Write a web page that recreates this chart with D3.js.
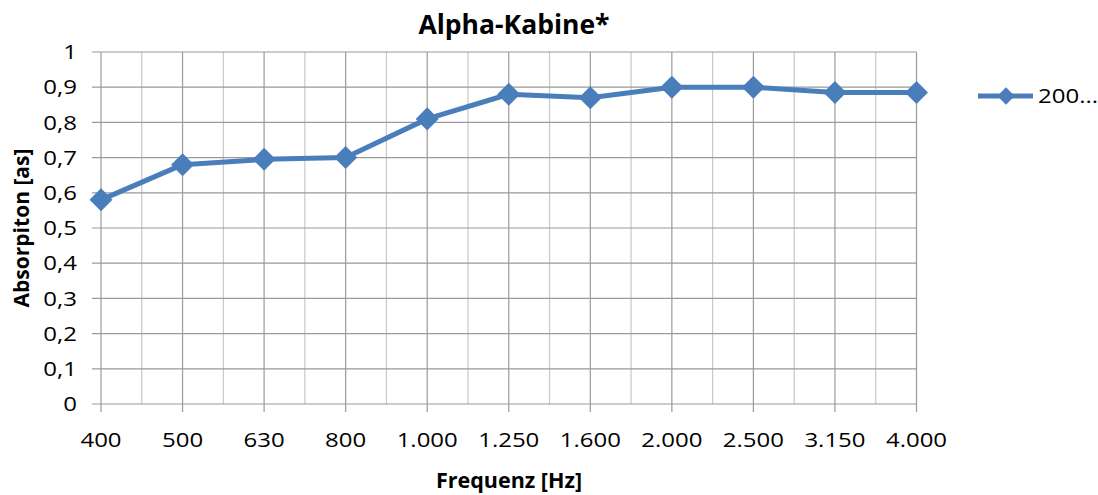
<!DOCTYPE html>
<html>
<head>
<meta charset="utf-8">
<script src="https://cdn.jsdelivr.net/npm/d3@7"></script>
<style>
  body { margin: 0; background: #fff; }
  text { font-family: "Open Sans", "Noto Sans", sans-serif; fill: #000; }
</style>
</head>
<body>
<svg id="chart" width="1098" height="495"></svg>
<script>
// chart data
const categories = ['400', '500', '630', '800', '1.000', '1.250', '1.600', '2.000', '2.500', '3.150', '4.000'];
const values = [0.58, 0.68, 0.695, 0.70, 0.81, 0.88, 0.87, 0.90, 0.90, 0.885, 0.885];
const yTicks = [0, 0.1, 0.2, 0.3, 0.4, 0.5, 0.6, 0.7, 0.8, 0.9, 1];
const seriesName = '200...';

const svg = d3.select('#chart');
const plotLeft = 101, plotRight = 916.5, plotTop = 52, plotBottom = 404;
const blue = '#4a7ebb';
const stretch = 1.2; // the labels in the original are drawn a bit wide

const x = d3.scalePoint().domain(categories).range([plotLeft, plotRight]);
const y = d3.scaleLinear().domain([0, 1]).range([plotBottom, plotTop]);
const step = x.step();

const grid = svg.append('g');
// minor vertical lines between categories
grid.selectAll('line.minor')
  .data(categories.slice(1))
  .enter().append('line')
  .attr('x1', d => x(d) - step / 2).attr('x2', d => x(d) - step / 2)
  .attr('y1', plotTop).attr('y2', plotBottom)
  .attr('stroke', '#c8c8c8').attr('stroke-width', 1.2);
// major vertical lines, with tick marks below
grid.selectAll('line.major')
  .data(categories)
  .enter().append('line')
  .attr('x1', d => x(d)).attr('x2', d => x(d))
  .attr('y1', plotTop).attr('y2', plotBottom + 8)
  .attr('stroke', '#9a9a9a').attr('stroke-width', 1.2);
// horizontal lines, with tick marks on the left
grid.selectAll('line.h')
  .data(yTicks)
  .enter().append('line')
  .attr('x1', plotLeft - 9).attr('x2', plotRight)
  .attr('y1', d => y(d)).attr('y2', d => y(d))
  .attr('stroke', '#9a9a9a').attr('stroke-width', 1.2);

// tick labels
svg.append('g').selectAll('text')
  .data(yTicks)
  .enter().append('text')
  .attr('transform', d => 'translate(77,' + y(d) + ') scale(' + stretch + ',1)')
  .attr('dy', '0.36em')
  .attr('text-anchor', 'end')
  .attr('font-size', 20)
  .text(d => d3.format('.1~f')(d).replace('.', ','));

svg.append('g').selectAll('text')
  .data(categories)
  .enter().append('text')
  .attr('transform', d => 'translate(' + x(d) + ',447) scale(' + stretch + ',1)')
  .attr('text-anchor', 'middle')
  .attr('font-size', 20)
  .text(d => d);

// titles
svg.append('text')
  .attr('x', 514).attr('y', 34)
  .attr('text-anchor', 'middle')
  .attr('font-size', 26.5).attr('font-weight', 'bold')
  .text('Alpha-Kabine*');
svg.append('text')
  .attr('x', 509).attr('y', 488)
  .attr('text-anchor', 'middle')
  .attr('font-size', 21.5).attr('font-weight', 'bold')
  .text('Frequenz [Hz]');
svg.append('text')
  .attr('transform', 'translate(29,' + ((plotTop + plotBottom) / 2) + ') rotate(-90)')
  .attr('text-anchor', 'middle')
  .attr('font-size', 21).attr('font-weight', 'bold')
  .text('Absorpiton [as]');

// series line
const line = d3.line().x((d, i) => x(categories[i])).y(d => y(d));
svg.append('path')
  .datum(values)
  .attr('d', line)
  .attr('fill', 'none')
  .attr('stroke', blue)
  .attr('stroke-width', 5)
  .attr('stroke-linejoin', 'round');

// diamonds = squares turned by 45 degrees
const marker = d3.symbol().type(d3.symbolSquare).size(265);
svg.append('g').selectAll('path')
  .data(values)
  .enter().append('path')
  .attr('d', marker)
  .attr('transform', (d, i) => 'translate(' + x(categories[i]) + ',' + y(d) + ') rotate(45)')
  .attr('fill', blue);

// legend
const lg = svg.append('g').attr('transform', 'translate(978,96)');
lg.append('line').attr('x1', 0).attr('x2', 55).attr('y1', 0).attr('y2', 0)
  .attr('stroke', blue).attr('stroke-width', 5);
lg.append('path').attr('d', d3.symbol().type(d3.symbolSquare).size(150))
  .attr('transform', 'translate(28,0) rotate(45)')
  .attr('fill', blue);
lg.append('text')
  .attr('transform', 'translate(60,0) scale(' + stretch + ',1)')
  .attr('dy', '0.36em')
  .attr('font-size', 20).text(seriesName);
</script>
</body>
</html>
